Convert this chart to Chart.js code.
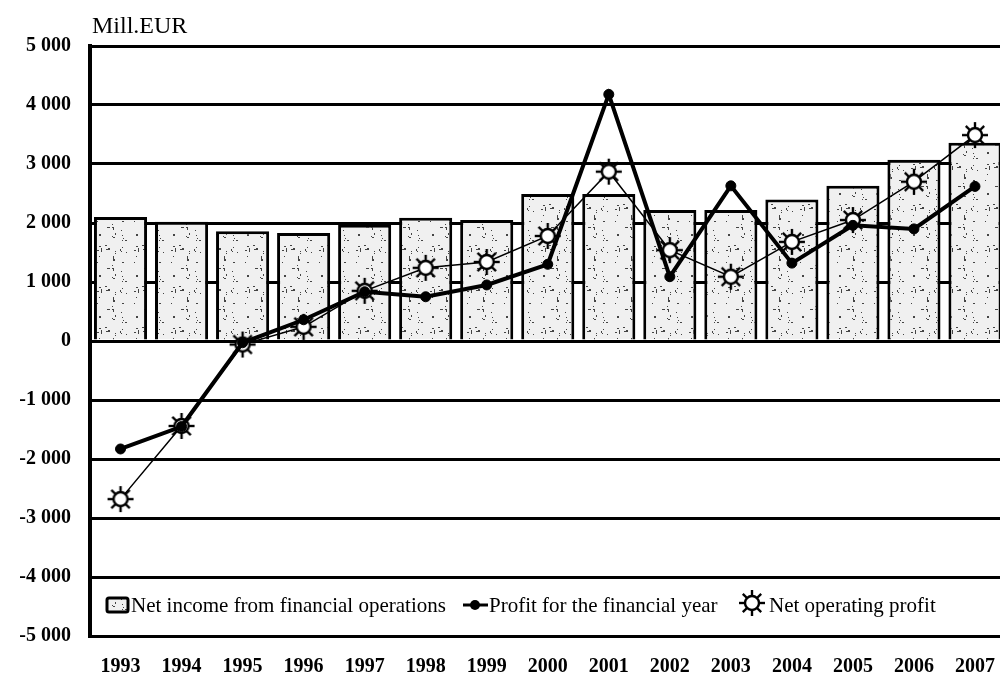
<!DOCTYPE html>
<html>
<head>
<meta charset="utf-8">
<script src="https://cdn.jsdelivr.net/npm/chart.js@4.4.1/dist/chart.umd.min.js"></script>
<style>
  html, body { margin: 0; padding: 0; background: #fff; overflow: hidden; }
  #c { display: block; }
</style>
</head>
<body>
<canvas id="c" width="1019" height="676" style="width:1019px;height:676px"></canvas>
<script>
// ---- Data ----
const years = ['1993','1994','1995','1996','1997','1998','1999','2000','2001','2002','2003','2004','2005','2006','2007'];
const netIncomeFinOps = [2100, 2020, 1860, 1830, 1970, 2090, 2050, 2490, 2490, 2220, 2220, 2400, 2630, 3070, 3360];
const profitFinYear   = [-1830, -1450, -30, 360, 835, 750, 950, 1300, 4180, 1090, 2630, 1320, 1960, 1900, 2620];
const netOperatingProfit = [-2680, -1440, -60, 240, 850, 1240, 1340, 1780, 2870, 1540, 1090, 1680, 2050, 2700, 3490];
const yTicks = [-5000, -4000, -3000, -2000, -1000, 0, 1000, 2000, 3000, 4000, 5000];
const unitLabel = 'Mill.EUR';
const seriesLabels = ['Net income from financial operations', 'Profit for the financial year', 'Net operating profit'];

// ---- Styles ----
const SERIF = '"Liberation Serif", "Times New Roman", serif';

function makeStipple() {
  const c = document.createElement('canvas');
  c.width = 37; c.height = 41;
  const g = c.getContext('2d');
  g.fillStyle = '#f0f0f0';
  g.fillRect(0, 0, c.width, c.height);
  g.fillStyle = '#444';
  let s = 7;
  for (let i = 0; i < 34; i++) {
    s = (s * 73 + 41) % 1009;
    const x = s % 37;
    s = (s * 73 + 41) % 1009;
    const y = s % 41;
    g.fillRect(x, y, (i % 3 === 0) ? 2 : 1, (i % 4 === 0) ? 2 : 1);
  }
  return g.createPattern(c, 'repeat');
}

function makeSun(size) {
  const c = document.createElement('canvas');
  c.width = size; c.height = size;
  const g = c.getContext('2d');
  const m = size / 2;
  g.strokeStyle = '#000';
  g.lineWidth = 2.4;
  for (let k = 0; k < 8; k++) {
    const a = k * Math.PI / 4;
    g.beginPath();
    g.moveTo(m + Math.cos(a) * 6, m + Math.sin(a) * 6);
    g.lineTo(m + Math.cos(a) * (m - 1), m + Math.sin(a) * (m - 1));
    g.stroke();
  }
  g.beginPath();
  g.arc(m, m, 7, 0, Math.PI * 2);
  g.fillStyle = '#fff';
  g.fill();
  g.lineWidth = 2.4;
  g.stroke();
  return c;
}

const stipple = makeStipple();
const sun = makeSun(28);

function fmt(v) {
  const s = Math.abs(v).toString().replace(/\B(?=(\d{3})+(?!\d))/g, ' ');
  return (v < 0 ? '-' : '') + s;
}

const overlay = {
  id: 'overlay',
  afterDraw(chart) {
    const ctx = chart.ctx;
    const ca = chart.chartArea;
    ctx.save();
    // unit label
    ctx.fillStyle = '#000';
    ctx.font = '24px ' + SERIF;
    ctx.textBaseline = 'alphabetic';
    ctx.textAlign = 'left';
    ctx.fillText(unitLabel, ca.left + 2, 33);

    // legend
    const ly = 605;
    ctx.font = '21px ' + SERIF;
    ctx.textBaseline = 'middle';
    // bar icon
    ctx.fillStyle = stipple;
    ctx.strokeStyle = '#000';
    ctx.lineWidth = 3;
    ctx.beginPath();
    ctx.roundRect(107, ly - 7, 21, 14, 2);
    ctx.fill();
    ctx.stroke();
    ctx.fillStyle = '#000';
    ctx.fillText(seriesLabels[0], 131, ly + 1);
    // profit icon
    ctx.beginPath();
    ctx.lineWidth = 3;
    ctx.moveTo(463, ly);
    ctx.lineTo(488, ly);
    ctx.stroke();
    ctx.beginPath();
    ctx.arc(475, ly, 5, 0, Math.PI * 2);
    ctx.fill();
    ctx.fillText(seriesLabels[1], 489, ly + 1);
    // sun icon
    ctx.drawImage(sun, 752 - 14, ly - 2 - 14);
    ctx.fillText(seriesLabels[2], 769, ly + 1);
    ctx.restore();
  }
};

new Chart(document.getElementById('c'), {
  data: {
    labels: years,
    datasets: [
      {
        type: 'line',
        label: seriesLabels[1],
        data: profitFinYear,
        borderColor: '#000',
        borderWidth: 4,
        pointRadius: 5,
        pointBackgroundColor: '#000',
        pointBorderColor: '#000',
        pointBorderWidth: 1,
        tension: 0,
        order: 1
      },
      {
        type: 'line',
        label: seriesLabels[2],
        data: netOperatingProfit,
        borderColor: '#000',
        borderWidth: 1.5,
        pointStyle: sun,
        pointRadius: 12,
        tension: 0,
        order: 2
      },
      {
        type: 'bar',
        label: seriesLabels[0],
        data: netIncomeFinOps,
        backgroundColor: stipple,
        borderColor: '#000',
        borderWidth: 3,
        barPercentage: 0.87,
        categoryPercentage: 1.0,
        order: 3
      }
    ]
  },
  options: {
    responsive: false,
    animation: false,
    devicePixelRatio: 1,
    layout: { padding: { top: 46, left: 0, right: 0, bottom: 0 } },
    plugins: {
      legend: { display: false },
      tooltip: { enabled: false },
      title: { display: false }
    },
    scales: {
      x: {
        type: 'category',
        offset: true,
        grid: { display: false, drawTicks: false },
        border: { display: false },
        ticks: {
          color: '#000',
          font: { family: SERIF, size: 20, weight: 'bold' },
          padding: 19,
          maxRotation: 0,
          autoSkip: false
        },
        afterFit(scale) { scale.height = 40; }
      },
      y: {
        min: -5000,
        max: 5000,
        afterBuildTicks(scale) { scale.ticks = yTicks.map(v => ({ value: v })); },
        grid: { color: '#000', lineWidth: 3, drawTicks: false },
        border: { display: true, color: '#000', width: 4 },
        ticks: {
          color: '#000',
          font: { family: SERIF, size: 20, weight: 'bold' },
          padding: 19,
          callback: (v) => fmt(v)
        },
        afterFit(scale) { scale.width = 90; }
      }
    }
  },
  plugins: [overlay]
});
</script>
</body>
</html>
